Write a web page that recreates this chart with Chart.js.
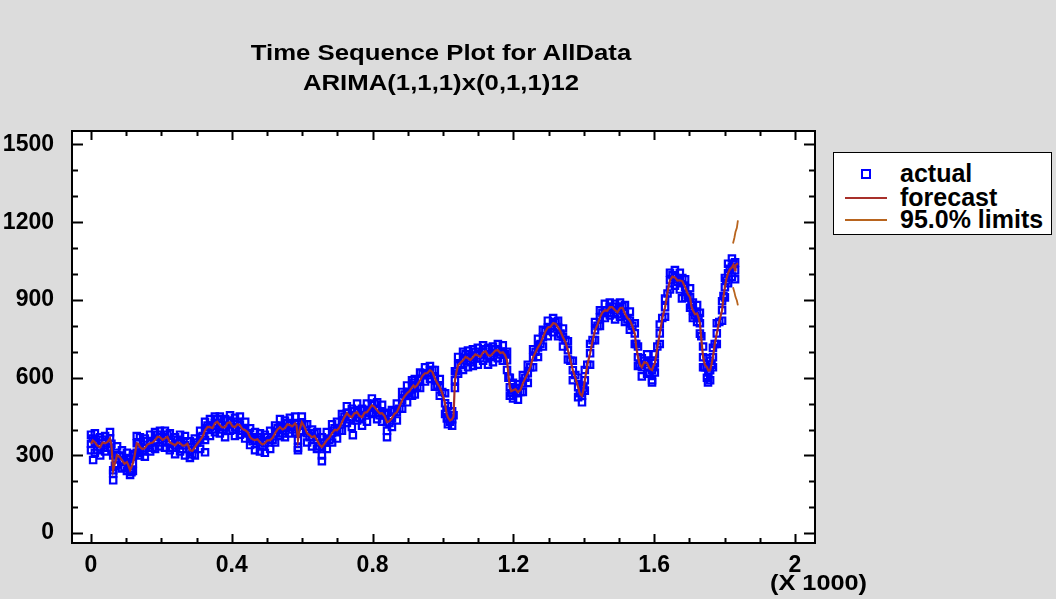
<!DOCTYPE html>
<html>
<head>
<meta charset="UTF-8">
<title>Time Sequence Plot for AllData</title>
<script src="https://cdn.jsdelivr.net/npm/chart.js@4"></script>
<style>
    body {
        margin: 0;
        padding: 0;
        background-color: #DCDCDC;
        font-family: "Liberation Sans", Arial, sans-serif;
    }
    .wrap {
        position: relative;
        width: 1056px;
        height: 599px;
    }
    .title {
        position: absolute;
        left: 0;
        top: 38px;
        width: 882px;
        text-align: center;
        font-weight: bold;
        font-size: 22px;
        line-height: 30px;
        color: #000;
    }
    .title div {
        transform: scaleX(1.17);
    }
    .legend {
        position: absolute;
        left: 833px;
        top: 152px;
        width: 217px;
        height: 81px;
        background: #FFFFFF;
        border: 1.5px solid #000;
        font-weight: bold;
        font-size: 25px;
        line-height: 24px;
    }
    .legend .row {
        position: absolute;
        left: 0;
        width: 217px;
        height: 24px;
    }
    .legend .txt {
        position: absolute;
        left: 66px;
        top: 0;
        white-space: nowrap;
    }
    .legend .sq {
        position: absolute;
        left: 27px;
        top: 8px;
        width: 6px;
        height: 6px;
        border: 2px solid #0000FF;
    }
    .legend .ln {
        position: absolute;
        left: 11px;
        top: 12px;
        width: 42px;
        height: 2px;
    }
    .unit {
        position: absolute;
        left: 770px;
        top: 569px;
        font-weight: bold;
        font-size: 22px;
        line-height: 28px;
        transform: scaleX(1.15);
        transform-origin: left center;
    }
</style>
</head>
<body>
<div class="wrap">
    <canvas id="chart" width="1056" height="599"></canvas>
    <div class="title">
        <div>Time Sequence Plot for AllData</div>
        <div>ARIMA(1,1,1)x(0,1,1)12</div>
    </div>
    <div class="legend">
        <div class="row" style="top:8px"><span class="sq"></span><span class="txt">actual</span></div>
        <div class="row" style="top:32px"><span class="ln" style="background:#A8302A"></span><span class="txt">forecast</span></div>
        <div class="row" style="top:54px"><span class="ln" style="background:#B8641E"></span><span class="txt">95.0% limits</span></div>
    </div>
    <div class="unit">(X 1000)</div>
</div>

<script>
    // time index of the readings
    const t = [0, 11, 26, 40, 54, 63, 74, 88, 102, 111, 119, 130, 139, 153, 168, 182, 196, 210, 224, 239,
        253, 267, 281, 295, 310, 324, 338, 352, 366, 381, 395, 409, 423, 438, 452, 466, 480, 494, 509, 523,
        537, 551, 565, 580, 588, 599, 614, 628, 642, 656, 670, 685, 699, 713, 727, 741, 756, 770, 784, 798,
        813, 827, 841, 855, 869, 884, 898, 912, 920, 935, 949, 963, 977, 991, 1006, 1014, 1026, 1034, 1043, 1057,
        1071, 1085, 1099, 1114, 1128, 1142, 1156, 1170, 1182, 1190, 1199, 1213, 1227, 1241, 1256, 1270, 1284, 1298, 1313, 1327,
        1341, 1355, 1369, 1384, 1395, 1403, 1418, 1432, 1446, 1460, 1474, 1489, 1503, 1517, 1531, 1545, 1554, 1565, 1580, 1594,
        1602, 1616, 1631, 1645, 1659, 1673, 1688, 1702, 1710, 1722, 1730, 1739, 1750, 1759, 1767, 1778, 1793, 1801, 1810, 1821,
        1830];

    // forecast line
    const forecast = [345, 351, 332, 347, 366, 243, 301, 282, 274, 243, 270, 347, 332, 328, 347, 359, 370, 366, 351, 339,
        347, 339, 320, 332, 359, 397, 409, 424, 417, 409, 428, 409, 417, 397, 370, 359, 351, 347, 359, 386,
        409, 405, 417, 424, 359, 428, 386, 370, 359, 332, 359, 386, 397, 428, 463, 447, 467, 447, 467, 494,
        474, 463, 428, 444, 467, 513, 540, 563, 563, 590, 617, 629, 598, 563, 501, 447, 440, 590, 648, 667,
        675, 679, 686, 698, 686, 694, 706, 698, 667, 563, 551, 544, 578, 617, 679, 717, 756, 794, 810, 794,
        756, 706, 629, 563, 530, 590, 694, 783, 833, 860, 872, 860, 868, 848, 821, 771, 679, 640, 656, 629,
        656, 771, 872, 976, 987, 976, 949, 910, 860, 848, 810, 679, 640, 629, 679, 771, 860, 949, 1003, 1026,
        1014];

    // in-between readings
    const tMid = [5, 18, 33, 47, 58, 68, 81, 95, 106, 115, 124, 134, 146, 160, 175, 189, 203, 217, 231, 246,
        260, 274, 288, 302, 317, 331, 345, 359, 373, 388, 402, 416, 430, 445, 459, 473, 487, 501, 516, 530,
        544, 558, 572, 584, 593, 606, 621, 635, 649, 663, 677, 692, 706, 720, 734, 748, 763, 777, 791, 805,
        820, 834, 848, 862, 876, 891, 905, 916, 927, 942, 956, 970, 984, 998, 1010, 1020, 1030, 1038, 1050, 1064,
        1078, 1092, 1106, 1121, 1135, 1149, 1163, 1176, 1186, 1194, 1206, 1220, 1234, 1248, 1263, 1277, 1291, 1305, 1320, 1334,
        1348, 1362, 1376, 1389, 1399, 1410, 1425, 1439, 1453, 1467, 1481, 1496, 1510, 1524, 1538, 1549, 1559, 1572, 1587, 1598,
        1609, 1623, 1638, 1652, 1666, 1680, 1695, 1706, 1716, 1726, 1734, 1744, 1754, 1763, 1772, 1785, 1797, 1805, 1815, 1825];

    const forecastMid = [358, 338, 350, 352, 340, 270, 295, 268, 262, 255, 300, 345, 325, 342, 350, 372, 360, 372, 345, 350,
        338, 345, 318, 345, 372, 410, 405, 430, 408, 425, 412, 420, 402, 390, 362, 362, 342, 358, 368, 400,
        400, 420, 412, 415, 400, 412, 378, 375, 342, 345, 368, 398, 408, 448, 452, 462, 452, 465, 480, 488,
        462, 452, 432, 460, 488, 528, 548, 570, 572, 608, 618, 622, 578, 540, 462, 435, 450, 620, 658, 680,
        668, 690, 680, 702, 684, 705, 695, 688, 610, 548, 556, 552, 598, 640, 698, 732, 778, 796, 808, 778,
        738, 668, 600, 538, 552, 648, 742, 805, 852, 858, 872, 852, 870, 830, 800, 720, 652, 660, 635, 645,
        715, 828, 930, 990, 975, 972, 925, 875, 845, 832, 750, 650, 628, 652, 728, 818, 912, 980, 1018, 1035];

    // actual observations along the upper and lower edge of the band
    const actualHigh = [380, 385, 370, 375, 390, 300, 335, 320, 310, 285, 300, 375, 370, 365, 380, 390, 395, 395, 385, 370,
        380, 375, 355, 365, 395, 430, 440, 450, 450, 440, 455, 445, 450, 430, 405, 390, 385, 380, 395, 415,
        440, 435, 445, 450, 420, 450, 420, 400, 390, 370, 390, 420, 430, 460, 490, 480, 500, 480, 500, 520,
        505, 495, 465, 475, 500, 545, 570, 590, 595, 620, 640, 645, 630, 595, 540, 490, 470, 625, 680, 700,
        705, 710, 715, 725, 715, 720, 730, 725, 700, 600, 580, 575, 610, 650, 710, 750, 785, 820, 830, 820,
        790, 740, 665, 600, 570, 630, 730, 815, 860, 885, 890, 885, 890, 880, 855, 810, 720, 675, 690, 665,
        690, 805, 905, 1005, 1015, 1005, 980, 945, 890, 880, 850, 720, 675, 665, 715, 810, 895, 985, 1040, 1060,
        1045];
    const actualLow = [320, 310, 300, 315, 330, 230, 265, 250, 240, 225, 240, 310, 300, 295, 315, 325, 335, 330, 320, 305,
        315, 300, 290, 300, 325, 360, 375, 390, 385, 370, 395, 375, 380, 365, 340, 320, 315, 310, 325, 350,
        375, 370, 385, 390, 330, 395, 350, 335, 325, 300, 325, 350, 365, 395, 425, 410, 435, 415, 430, 460,
        440, 430, 395, 410, 435, 480, 505, 530, 535, 560, 585, 595, 565, 530, 460, 420, 415, 560, 615, 630,
        640, 645, 650, 665, 650, 660, 675, 665, 630, 530, 520, 515, 545, 580, 640, 680, 720, 760, 775, 760,
        720, 670, 590, 525, 505, 550, 650, 745, 800, 830, 840, 825, 835, 815, 785, 730, 645, 605, 615, 590,
        620, 730, 835, 940, 955, 940, 910, 870, 830, 815, 770, 640, 600, 590, 640, 730, 820, 910, 965, 990,
        980];
    const actualMid = [365, 320, 360, 330, 345, 260, 300, 255, 290, 235, 305, 350, 315, 355, 330, 380, 350, 380, 330, 360,
        325, 355, 305, 350, 375, 415, 400, 440, 400, 435, 400, 430, 395, 385, 355, 370, 335, 370, 360, 405,
        385, 425, 400, 410, 390, 420, 370, 385, 335, 350, 360, 405, 395, 450, 440, 470, 445, 475, 465, 500,
        455, 460, 425, 470, 480, 535, 540, 580, 565, 615, 610, 630, 570, 545, 470, 430, 455, 625, 650, 690,
        660, 700, 675, 710, 680, 710, 690, 690, 600, 540, 560, 545, 600, 640, 700, 730, 780, 790, 815, 770,
        745, 665, 610, 540, 560, 650, 745, 800, 850, 850, 875, 845, 875, 825, 800, 730, 650, 665, 620, 640,
        720, 830, 925, 995, 970, 985, 920, 880, 840, 830, 760, 640, 620, 650, 730, 815, 915, 975, 1020, 1040];

    // isolated squares away from the band
    const outlierT = [6, 63, 324, 588, 656, 744, 841, 1011, 1594, 1679, 1753];
    const outlierV = [282, 204, 312, 320, 278, 378, 370, 443, 582, 906, 582];

    // forecast period
    const aheadT = [1824, 1828, 1831, 1835, 1838];
    const aheadForecast = [1020, 1028, 1034, 1038, 1042];
    const upperLimit = [1118, 1140, 1162, 1178, 1207];
    const lowerLimit = [949, 930, 912, 898, 879];

    const xTicks = [0, 400, 800, 1200, 1600, 2000];
    const yTicks = [0, 300, 600, 900, 1200, 1500];

    const pts = (xs, ys) => xs.map((x, i) => ({ x: x, y: ys[i] }));

    const actualPoints = pts(t, actualHigh).concat(pts(t, actualLow), pts(tMid, actualMid), pts(t, forecast),
        pts(outlierT, outlierV));
    const forecastPoints = pts(t, forecast).concat(pts(tMid, forecastMid), pts(aheadT.slice(2), aheadForecast.slice(2)))
        .sort((a, b) => a.x - b.x);

    // white plot area + box with inward ticks on all four sides
    const frame = {
        id: 'frame',
        beforeDraw(chart) {
            const a = chart.chartArea, ctx = chart.ctx;
            ctx.save();
            ctx.fillStyle = '#FFFFFF';
            ctx.fillRect(a.left, a.top, a.right - a.left, a.bottom - a.top);
            ctx.restore();
        },
        afterDraw(chart) {
            const a = chart.chartArea, ctx = chart.ctx;
            const xs = chart.scales.x, ys = chart.scales.y;
            ctx.save();
            ctx.strokeStyle = '#000';
            ctx.lineWidth = 2;
            ctx.strokeRect(a.left, a.top, a.right - a.left, a.bottom - a.top);
            ctx.beginPath();
            for (let v = 0; v <= 2000; v += 100) {
                const px = Math.round(xs.getPixelForValue(v)) + 0.5;
                const len = v % 400 === 0 ? 9 : 5;
                ctx.moveTo(px, a.bottom); ctx.lineTo(px, a.bottom - len);
                ctx.moveTo(px, a.top); ctx.lineTo(px, a.top + len);
            }
            for (let v = 0; v <= 1500; v += 100) {
                const py = Math.round(ys.getPixelForValue(v)) + 0.5;
                const len = v % 300 === 0 ? 11 : 6;
                ctx.moveTo(a.left, py); ctx.lineTo(a.left + len, py);
                ctx.moveTo(a.right, py); ctx.lineTo(a.right - len, py);
            }
            ctx.stroke();
            ctx.restore();
        }
    };

    const tickFont = { family: '"Liberation Sans", Arial, sans-serif', size: 23, weight: 'bold' };

    new Chart(document.getElementById('chart').getContext('2d'), {
        type: 'scatter',
        data: {
            datasets: [
                {
                    label: 'upper',
                    type: 'line',
                    data: pts(aheadT, upperLimit),
                    borderColor: '#B8641E',
                    borderWidth: 1.8,
                    pointRadius: 0,
                    order: 0
                },
                {
                    label: 'lower',
                    type: 'line',
                    data: pts(aheadT, lowerLimit),
                    borderColor: '#B8641E',
                    borderWidth: 1.8,
                    pointRadius: 0,
                    order: 0
                },
                {
                    label: 'forecast',
                    type: 'line',
                    data: forecastPoints,
                    borderColor: '#A8302A',
                    borderWidth: 2.2,
                    pointRadius: 0,
                    order: 1
                },
                {
                    label: 'actual',
                    data: actualPoints,
                    showLine: false,
                    pointStyle: 'rect',
                    pointRadius: 4.5,
                    borderColor: '#0000FF',
                    borderWidth: 2.2,
                    backgroundColor: 'rgba(0,0,0,0)',
                    order: 3
                }
            ]
        },
        options: {
            responsive: false,
            animation: false,
            devicePixelRatio: 1,
            layout: { padding: { top: 131, right: 241, left: 0, bottom: 0 } },
            plugins: {
                legend: { display: false },
                title: { display: false },
                tooltip: { enabled: false }
            },
            scales: {
                x: {
                    type: 'linear',
                    min: -54,
                    max: 2057,
                    afterBuildTicks: s => { s.ticks = xTicks.map(v => ({ value: v })); },
                    afterFit: s => { s.height = 56; },
                    grid: { display: false, drawTicks: false },
                    border: { display: false },
                    ticks: {
                        color: '#000',
                        font: tickFont,
                        padding: 9,
                        maxRotation: 0,
                        autoSkip: false,
                        callback: v => String(v / 1000)
                    }
                },
                y: {
                    type: 'linear',
                    min: -38,
                    max: 1552,
                    afterBuildTicks: s => { s.ticks = yTicks.map(v => ({ value: v })); },
                    afterFit: s => { s.width = 72; },
                    grid: { display: false, drawTicks: false },
                    border: { display: false },
                    ticks: {
                        color: '#000',
                        font: tickFont,
                        padding: 18,
                        autoSkip: false,
                        callback: v => String(v)
                    }
                }
            }
        },
        plugins: [frame]
    });
</script>
</body>
</html>
